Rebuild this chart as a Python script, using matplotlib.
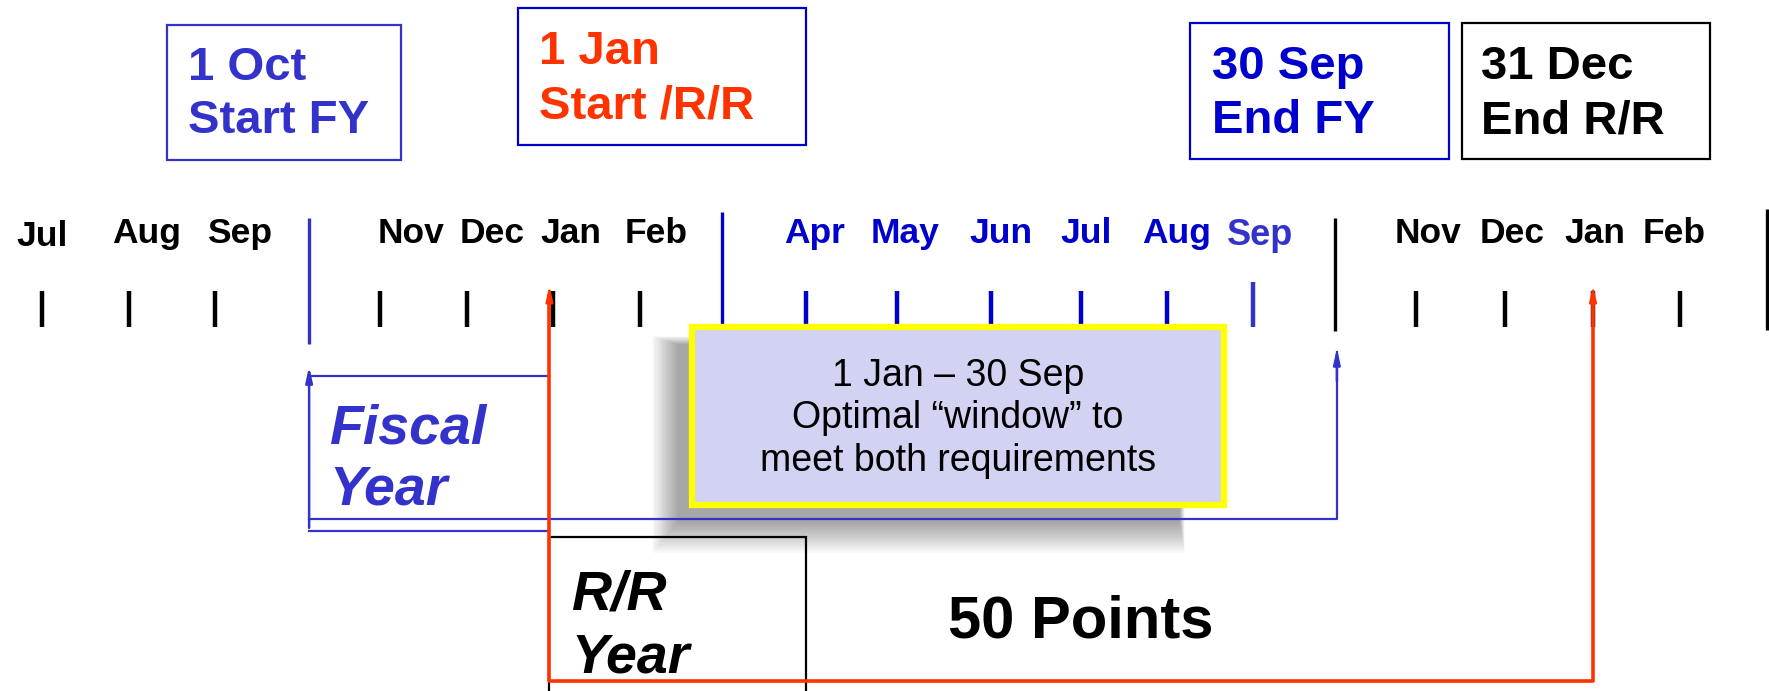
import numpy as np
import matplotlib.pyplot as plt
from matplotlib.patches import Rectangle

plt.rcParams['font.family'] = ['Liberation Sans', 'DejaVu Sans']

# month labels on the timeline and where they sit
months = ['Jul', 'Aug', 'Sep', 'Nov', 'Dec', 'Jan', 'Feb',
          'Apr', 'May', 'Jun', 'Jul', 'Aug', 'Sep',
          'Nov', 'Dec', 'Jan', 'Feb']
month_x = [37, 130, 212, 364, 436, 506, 582,
           722, 802, 887, 963, 1043, 1117,
           1266, 1340, 1414, 1484]
tick_x = [37, 114, 191, 337, 414, 490, 567,
          714, 795, 878, 958, 1034, 1111,
          1255, 1334, 1412, 1489]
# 0 = black, 1 = dark blue, 2 = light blue
month_grp = [0, 0, 0, 0, 0, 0, 0,
             1, 1, 1, 1, 1, 2,
             0, 0, 0, 0]
# quarter boundaries (long lines)
bound_x = [274, 640, 1183, 1566]
bound_grp = [2, 1, 0, 0]

# key dates
fy_start, rr_start, fy_end, rr_end = 274, 487, 1185, 1412

BLACK = '#000000'
DBLUE = '#0000CC'
LBLUE = '#3333CC'
RED = '#FF3300'
cols = [BLACK, DBLUE, LBLUE]

fig = plt.figure(figsize=(17.69, 6.91), dpi=100)
ax = fig.add_axes([0, 0, 1, 1])
ax.set_xlim(0, 1568)
ax.set_ylim(612, 0)
ax.axis('off')

# top date boxes
boxes = [
    (148, 22, 207, 120, LBLUE, LBLUE, ['1 Oct', 'Start FY'], 167, [71, 118]),
    (459, 7, 255, 121, DBLUE, RED, ['1 Jan', 'Start /R/R'], 478, [57, 105]),
    (1055, 20, 229, 121, DBLUE, DBLUE, ['30 Sep', 'End FY'], 1074, [70, 118]),
    (1296, 20, 220, 121, BLACK, BLACK, ['31 Dec', 'End R/R'], 1313, [70, 118]),
]
for x, y, w, h, ec, tc, lines, tx, ty in boxes:
    ax.add_patch(Rectangle((x, y), w, h, fill=False, ec=ec, lw=1.6))
    for s, yy in zip(lines, ty):
        ax.text(tx, yy, s, color=tc, fontsize=34, fontweight='bold', va='baseline')

# month labels and ticks
for i, (m, x, g) in enumerate(zip(months, month_x, month_grp)):
    yy = 218 if i == 0 else (217 if g == 2 else 215)
    ax.text(x, yy, m, color=cols[g], fontsize=26 if g == 2 else 25.5,
            fontweight='bold', ha='center', va='baseline')
for x, g in zip(tick_x, month_grp):
    y0 = 250 if g == 2 else 258
    ax.plot([x, x], [y0, 290], color=cols[g], lw=3.2, solid_capstyle='butt')
bound_y = [(193, 305), (188, 292), (193, 293), (185, 292)]
for x, g, (a, b) in zip(bound_x, bound_grp, bound_y):
    ax.plot([x, x], [a, b], color=cols[g], lw=2.4, solid_capstyle='butt')

# shadow of the window box
for k in range(16):
    off = k * 1.5
    ax.add_patch(Rectangle((578 + off, 298 + off * 0.3), 472 - off * 1.2, 192 - off * 1.5,
                           fc='#000000', ec='none', alpha=0.024, zorder=2))

# window box
ax.add_patch(Rectangle((613, 290), 472, 157, fc='#D2D2F2', ec='#FFFF00', lw=4.5, zorder=3))
win_lines = ['1 Jan \u2013 30 Sep', 'Optimal \u201cwindow\u201d to', 'meet both requirements']
for s, yy in zip(win_lines, [333, 370, 408]):
    ax.text(849, yy, s, fontsize=27, ha='center', va='center', zorder=4)

# fiscal year bracket
ax.plot([fy_start, rr_start], [333, 333], color=LBLUE, lw=1.6)
ax.plot([fy_start, rr_start], [470, 470], color=LBLUE, lw=1.6)
ax.plot([fy_start, fy_end, fy_end], [460, 460, 312], color=LBLUE, lw=1.6, zorder=5)
ax.annotate('', xy=(fy_start, 322), xytext=(fy_start, 470),
            arrowprops=dict(arrowstyle='-|>,head_length=0.9,head_width=0.2', color=LBLUE, lw=1.8))
ax.annotate('', xy=(fy_end, 306), xytext=(fy_end, 340),
            arrowprops=dict(arrowstyle='-|>,head_length=0.9,head_width=0.2', color=LBLUE, lw=1.8))
ax.text(292, 393, 'Fiscal', color=LBLUE, fontsize=40, fontweight='bold', style='italic')
ax.text(292, 447, 'Year', color=LBLUE, fontsize=40, fontweight='bold', style='italic')

# R/R year bracket
ax.add_patch(Rectangle((rr_start, 476), 227, 150, fill=False, ec=BLACK, lw=1.6, zorder=4))
ax.plot([rr_start, rr_start, rr_end, rr_end], [262, 603, 603, 262], color=RED, lw=2.6, zorder=5)
ax.annotate('', xy=(rr_start, 250), xytext=(rr_start, 280),
            arrowprops=dict(arrowstyle='-|>,head_length=0.9,head_width=0.2', color=RED, lw=1.8))
ax.annotate('', xy=(rr_end, 250), xytext=(rr_end, 280),
            arrowprops=dict(arrowstyle='-|>,head_length=0.9,head_width=0.2', color=RED, lw=1.8))
ax.text(506, 540, 'R/R', color=BLACK, fontsize=40, fontweight='bold', style='italic')
ax.text(506, 596, 'Year', color=BLACK, fontsize=40, fontweight='bold', style='italic')

ax.text(958, 565, '50 Points', color=BLACK, fontsize=43, fontweight='bold', ha='center')

fig.savefig('out.png', dpi=100)
